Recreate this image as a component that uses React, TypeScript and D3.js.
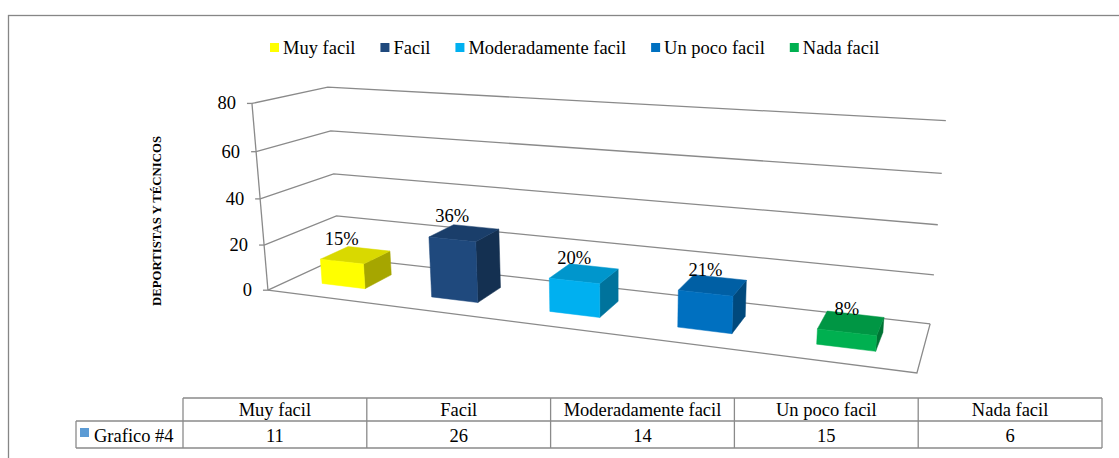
import React, { useMemo } from "react";
import * as d3 from "d3";

// ---------- data ----------
const categories = ["Muy facil", "Facil", "Moderadamente facil", "Un poco facil", "Nada facil"];
const values = [11, 26, 14, 15, 6];
const percentLabels = ["15%", "36%", "20%", "21%", "8%"];
const colors = ["#FFFF00", "#1F497D", "#00B0F0", "#0070C0", "#00B050"];
const yTicks = [0, 20, 40, 60, 80];
const seriesName = "Grafico #4";
const axisTitle = "DEPORTISTAS Y TÉCNICOS";

// ---------- layout ----------
const W = 1119;
const H = 458;
const FONT = "Liberation Serif, Times New Roman, serif";
const GRID = "#8a8a8a";
const FS = 18.5;

// Frame anchors for the 3D perspective: [x(0..1 across), y(0..1 up), z(0..1 front->back), screenX, screenY]
const FRAME_ANCHORS: number[][] = [
  [0, 0, 0, 268.3, 290],
  [0, 0.25, 0, 263.3, 245],
  [0, 0.5, 0, 259.3, 198.3],
  [0, 0.75, 0, 256, 151.7],
  [0, 1, 0, 253.3, 104],
  [0, 0, 1, 340, 257.5],
  [0, 0.25, 1, 336.7, 216],
  [0, 0.5, 1, 333.3, 174.3],
  [0, 0.75, 1, 330.7, 130.7],
  [0, 1, 1, 327.3, 86.7],
  [1, 0, 1, 930, 323.3],
  [1, 0.25, 1, 934, 275],
  [1, 0.5, 1, 937.7, 225],
  [1, 0.75, 1, 941.7, 173.3],
  [1, 1, 1, 946, 120.7],
  [1, 0, 0, 917, 373.3],
];

function solveLinear(A: number[][], b: number[]): number[] {
  const n = b.length;
  const M = A.map((r, i) => [...r, b[i]]);
  for (let c = 0; c < n; c++) {
    let piv = c;
    for (let r = c + 1; r < n; r++) if (Math.abs(M[r][c]) > Math.abs(M[piv][c])) piv = r;
    [M[c], M[piv]] = [M[piv], M[c]];
    for (let r = 0; r < n; r++) {
      if (r === c) continue;
      const f = M[r][c] / M[c][c];
      for (let k = c; k <= n; k++) M[r][k] -= f * M[c][k];
    }
  }
  return M.map((r, i) => r[n] / r[i]);
}

function fitCamera() {
  const CX = 600, CY = 250, S = 300;
  const rows: number[][] = [];
  const rhs: number[] = [];
  for (const [X, Y, Z, sx, sy] of FRAME_ANCHORS) {
    const u = (sx - CX) / S;
    const v = (sy - CY) / S;
    rows.push([X, Y, Z, 1, 0, 0, 0, 0, -u * X, -u * Y, -u * Z]);
    rhs.push(u);
    rows.push([0, 0, 0, 0, X, Y, Z, 1, -v * X, -v * Y, -v * Z]);
    rhs.push(v);
  }
  const n = 11;
  const AtA = Array.from({ length: n }, () => new Array(n).fill(0));
  const Atb = new Array(n).fill(0);
  rows.forEach((r, i) => {
    for (let a = 0; a < n; a++) {
      Atb[a] += r[a] * rhs[i];
      for (let b = 0; b < n; b++) AtA[a][b] += r[a] * r[b];
    }
  });
  const p = solveLinear(AtA, Atb);
  return (X: number, Y: number, Z: number): [number, number] => {
    const w = p[8] * X + p[9] * Y + p[10] * Z + 1;
    const u = (p[0] * X + p[1] * Y + p[2] * Z + p[3]) / w;
    const v = (p[4] * X + p[5] * Y + p[6] * Z + p[7]) / w;
    return [u * S + CX, v * S + CY];
  };
}

function measure(text: string, size: number, bold = false) {
  const c = document.createElement("canvas").getContext("2d")!;
  c.font = `${bold ? "bold " : ""}${size}px "Liberation Serif", "Times New Roman", serif`;
  return c.measureText(text).width;
}

export default function App() {
  const project = useMemo(() => fitCamera(), []);

  const xScale = d3.scaleBand<string>().domain(categories).range([0, 1]).paddingInner(0.6).paddingOuter(0.3);
  const yScale = d3.scaleLinear().domain([0, 80]).range([0, 1]);
  const zFront = 0.3;
  const zBack = 0.7;

  const pts = (arr: [number, number, number][]) =>
    arr.map((q) => project(q[0], q[1], q[2]).join(",")).join(" ");

  // legend layout
  let lx = 270;
  const legendItems = categories.map((c, i) => {
    const item = { x: lx, label: c, color: colors[i] };
    lx += 13 + measure(c, FS) + 25;
    return item;
  });

  // table layout
  const colScale = d3.scaleBand<string>().domain(categories).range([183, 1102]);
  const tTop = 398, tMid = 421, tBot = 448, tLeft = 76;

  return (
    <svg width={W} height={H} style={{ position: "absolute", left: 0, top: 0, background: "#fff" }}
      fontFamily={FONT}>
      <rect x={0} y={0} width={W} height={H} fill="#fff" />
      <rect x={8.5} y={15.5} width={1300} height={600} fill="none" stroke="#868686" strokeWidth={1.3} />

      {/* legend */}
      {legendItems.map((it) => (
        <g key={it.label}>
          <rect x={it.x} y={43} width={9} height={9} fill={it.color} />
          <text x={it.x + 13} y={54} fontSize={FS} fill="#000">{it.label}</text>
        </g>
      ))}

      {/* axis title */}
      <text transform="translate(161,221) rotate(-90)" textAnchor="middle" fontSize={12.8} fontWeight="bold">
        {axisTitle}
      </text>

      {/* gridlines: left wall + back wall */}
      {yTicks.map((t) => (
        <polyline key={t} fill="none" stroke={GRID} strokeWidth={1.3}
          points={pts([[0, yScale(t), 0], [0, yScale(t), 1], [1, yScale(t), 1]])} />
      ))}
      {/* floor front and right edges */}
      <polyline fill="none" stroke={GRID} strokeWidth={1.3} points={pts([[0, 0, 0], [1, 0, 0], [1, 0, 1]])} />
      {/* vertical axis */}
      <line stroke={GRID} strokeWidth={1.3}
        x1={project(0, 0, 0)[0]} y1={project(0, 0, 0)[1]} x2={project(0, 1, 0)[0]} y2={project(0, 1, 0)[1]} />
      {yTicks.map((t) => {
        const [ax, ay] = project(0, yScale(t), 0);
        return (
          <g key={"tk" + t}>
            <line x1={ax - 5} y1={ay} x2={ax} y2={ay} stroke={GRID} strokeWidth={1.3} />
            <text x={ax - 16} y={ay + 6} textAnchor="end" fontSize={FS}>{t}</text>
          </g>
        );
      })}

      {/* bars */}
      {categories.map((c, i) => {
        const x0 = xScale(c)!;
        const x1 = x0 + xScale.bandwidth();
        const h = yScale(values[i]);
        const base = d3.color(colors[i])!;
        const top = base.darker(0.45).formatHex();
        const side = base.darker(1.2).formatHex();
        return (
          <g key={c}>
            <polygon fill={side} stroke={side} strokeWidth={0.5}
              points={pts([[x1, 0, zFront], [x1, 0, zBack], [x1, h, zBack], [x1, h, zFront]])} />
            <polygon fill={top} stroke={top} strokeWidth={0.5}
              points={pts([[x0, h, zFront], [x1, h, zFront], [x1, h, zBack], [x0, h, zBack]])} />
            <polygon fill={colors[i]} stroke={colors[i]} strokeWidth={0.5}
              points={pts([[x0, 0, zFront], [x1, 0, zFront], [x1, h, zFront], [x0, h, zFront]])} />
          </g>
        );
      })}
      {/* data labels */}
      {categories.map((c, i) => {
        const xc = xScale(c)! + xScale.bandwidth() / 2;
        const [px, py] = project(xc, yScale(values[i]), zFront);
        return (
          <text key={"lb" + c} x={px} y={py - 17} textAnchor="middle" fontSize={FS}>{percentLabels[i]}</text>
        );
      })}

      {/* data table */}
      <g stroke={GRID} strokeWidth={1.3} fill="none">
        <line x1={183} y1={tTop} x2={1102} y2={tTop} />
        <line x1={tLeft} y1={tMid} x2={1102} y2={tMid} />
        <line x1={tLeft} y1={tBot} x2={1102} y2={tBot} />
        <line x1={tLeft} y1={tMid} x2={tLeft} y2={tBot} />
        {categories.map((c) => (
          <line key={"v" + c} x1={colScale(c)!} y1={tTop} x2={colScale(c)!} y2={tBot} />
        ))}
        <line x1={1102} y1={tTop} x2={1102} y2={tBot} />
      </g>
      {categories.map((c, i) => (
        <g key={"t" + c}>
          <text x={colScale(c)! + colScale.bandwidth() / 2} y={tMid - 5} textAnchor="middle" fontSize={FS}>{c}</text>
          <text x={colScale(c)! + colScale.bandwidth() / 2} y={tBot - 6} textAnchor="middle" fontSize={FS}>{values[i]}</text>
        </g>
      ))}
      <rect x={80} y={428} width={9} height={9} fill="#5B9BD5" />
      <text x={94} y={tBot - 6} fontSize={FS}>{seriesName}</text>
    </svg>
  );
}
